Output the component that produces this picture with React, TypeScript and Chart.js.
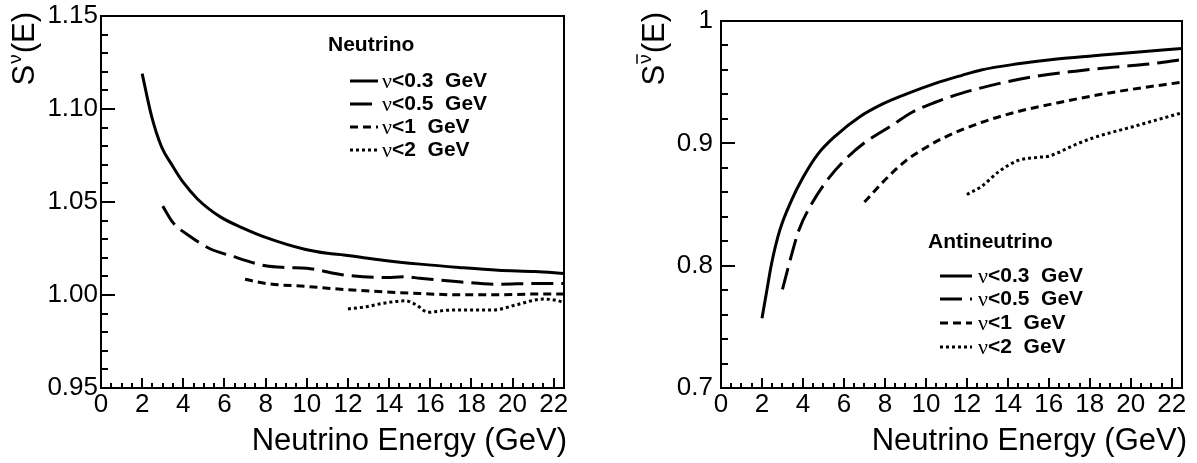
import React, { useEffect, useRef } from "react";
import { Chart, registerables } from "chart.js";
Chart.register(...registerables);

// ---------- data ----------
const energyMin = 0;
const energyMax = 22.5;

const seriesLabels = ["<0.3  GeV", "<0.5  GeV", "<1  GeV", "<2  GeV"];

// Neutrino panel
const nuE03 = [2, 2.46, 2.93, 3.5, 4, 4.7, 5.8, 6.9, 8, 9.9, 11, 11.8, 13.7, 15.5, 17.4, 19.3, 21.1, 22.5];
const nuS03 = [1.119, 1.096, 1.08, 1.069, 1.0605, 1.0515, 1.042, 1.036, 1.031, 1.0246, 1.0224, 1.0215, 1.0187, 1.0166, 1.0148, 1.0133, 1.0126, 1.0116];
const nuE05 = [3, 3.5, 4.3, 5.35, 6.2, 8, 9, 10, 11.8, 13.7, 14.8, 15.5, 17.4, 19.3, 21.1, 22.5];
const nuS05 = [1.0478, 1.0389, 1.0317, 1.0246, 1.0215, 1.0157, 1.0148, 1.0144, 1.0108, 1.0094, 1.0098, 1.009, 1.0071, 1.0058, 1.0062, 1.0062];
const nuE1 = [7, 8, 10, 11.8, 13.7, 15.5, 17.4, 19.3, 21.1, 22.5];
const nuS1 = [1.0085, 1.0062, 1.0046, 1.003, 1.0017, 1.0008, 1.0001, 1.0001, 1.0005, 1.0005];
const nuE2 = [12, 12.9, 13.7, 14.8, 15.3, 15.9, 16.6, 17.4, 19.1, 20.2, 21.5, 22.05, 22.5];
const nuS2 = [0.9925, 0.9937, 0.9955, 0.9969, 0.9948, 0.9907, 0.9916, 0.992, 0.992, 0.9948, 0.9978, 0.9973, 0.996];

// Antineutrino panel
const anE03 = [2, 2.22, 2.46, 2.87, 3.43, 4, 4.72, 5.65, 6.76, 7.87, 9, 10.46, 11.76, 12.7, 14.5, 16.4, 18.2, 20.1, 22.5];
const anS03 = [0.757, 0.778, 0.801, 0.829, 0.853, 0.872, 0.891, 0.907, 0.9216, 0.932, 0.94, 0.949, 0.9556, 0.96, 0.965, 0.969, 0.9716, 0.9743, 0.9775];
const anE05 = [3, 3.43, 3.8, 4.44, 5.28, 6.2, 7.13, 8.24, 9.35, 10.46, 11.76, 13.6, 15.46, 17.3, 19.2, 21, 22.5];
const anS05 = [0.7806, 0.808, 0.829, 0.851, 0.872, 0.889, 0.902, 0.9136, 0.9256, 0.9336, 0.941, 0.949, 0.955, 0.959, 0.9623, 0.965, 0.9684];
const anE1 = [7, 8.06, 9, 9.9, 10.8, 12.7, 14.5, 16.4, 18.2, 20.1, 22.5];
const anS1 = [0.852, 0.871, 0.8855, 0.8956, 0.904, 0.917, 0.926, 0.933, 0.939, 0.9443, 0.95];
const anE2 = [12, 12.7, 13.6, 14.5, 15.46, 16, 16.4, 17.3, 18.2, 20.1, 22.5];
const anS2 = [0.8582, 0.8646, 0.8774, 0.886, 0.8886, 0.8895, 0.892, 0.899, 0.9047, 0.9136, 0.925];

// axis ranges / ticks
const nuYMin = 0.95, nuYMax = 1.15, nuYStep = 0.05, nuYMinor = 0.01;
const anYMin = 0.7, anYMax = 1.0, anYStep = 0.1, anYMinor = 0.02;
const xStep = 2, xMinor = 0.5;

const xTitle = "Neutrino Energy (GeV)";

// ---------- styles ----------
const dashes: number[][] = [[], [22, 8], [8, 5], [3, 3]];
const SANS = "'Liberation Sans', Arial, sans-serif";
const SERIF = "'Liberation Serif', 'Times New Roman', serif";

const rootPlugin = {
  id: "rootStyle",
  afterDraw(chart: any, _args: any, o: any) {
    const { ctx, chartArea: a, scales } = chart;
    const xs = scales.x, ys = scales.y;
    ctx.save();
    ctx.strokeStyle = "#000";
    ctx.fillStyle = "#000";
    // ticks inside the frame
    ctx.lineWidth = 2;
    ctx.lineCap = "butt";
    const nx = Math.round((o.xMax - o.xMin) / o.xMinor);
    for (let i = 0; i <= nx; i++) {
      const v = o.xMin + i * o.xMinor;
      const major = Math.abs(v / o.xStep - Math.round(v / o.xStep)) < 1e-6;
      const px = Math.round(xs.getPixelForValue(v));
      const len = major ? 10 : 5;
      ctx.beginPath();
      ctx.moveTo(px, a.bottom);
      ctx.lineTo(px, a.bottom - len);
      ctx.stroke();
    }
    const ny = Math.round((o.yMax - o.yMin) / o.yMinor);
    const sub = Math.round(o.yStep / o.yMinor);
    for (let i = 0; i <= ny; i++) {
      const v = o.yMin + i * o.yMinor;
      const py = Math.round(ys.getPixelForValue(v));
      const len = i % sub === 0 ? 14 : 7;
      ctx.beginPath();
      ctx.moveTo(a.left, py);
      ctx.lineTo(a.left + len, py);
      ctx.stroke();
    }
    // frame
    ctx.lineWidth = 2;
    ctx.strokeRect(a.left, a.top, a.right - a.left, a.bottom - a.top);

    // x title
    ctx.font = `31px ${SANS}`;
    ctx.textAlign = "right";
    ctx.textBaseline = "middle";
    ctx.fillText(o.xTitle, o.xTitleRight, o.xTitleY);

    // y title: S^nu(E), rotated
    ctx.save();
    ctx.translate(o.yTitleX, o.yTitleTop);
    ctx.rotate(-Math.PI / 2);
    ctx.textBaseline = "middle";
    ctx.textAlign = "left";
    ctx.font = `31px ${SANS}`;
    const wS = ctx.measureText("S").width;
    const wP = ctx.measureText("(E)").width;
    ctx.font = `19px ${SANS}`;
    const wN = ctx.measureText("ν").width;
    const total = wS + wN + 2 + wP;
    let x0 = -total;
    ctx.font = `31px ${SANS}`;
    ctx.fillText("S", x0, 0);
    x0 += wS + 1;
    ctx.font = `19px ${SANS}`;
    ctx.fillText("ν", x0, -9);
    if (o.bar) {
      ctx.lineWidth = 1.5;
      ctx.beginPath();
      ctx.moveTo(x0, -18);
      ctx.lineTo(x0 + wN, -18);
      ctx.stroke();
    }
    x0 += wN + 1;
    ctx.font = `31px ${SANS}`;
    ctx.fillText("(E)", x0, 0);
    ctx.restore();

    // legend
    const L = o.legend;
    ctx.textAlign = "left";
    ctx.textBaseline = "middle";
    ctx.font = `bold 21px ${SANS}`;
    ctx.fillText(L.title, L.titleX, L.titleY);
    chart.data.datasets.forEach((ds: any, i: number) => {
      const y = L.rowY[i];
      ctx.save();
      ctx.lineWidth = 3;
      ctx.setLineDash(ds.borderDash || []);
      ctx.beginPath();
      ctx.moveTo(L.sampleX0, y);
      ctx.lineTo(L.sampleX1, y);
      ctx.stroke();
      ctx.restore();
      ctx.font = `22px ${SERIF}`;
      ctx.fillText("ν", L.textX, y + 1);
      const wn = ctx.measureText("ν").width;
      ctx.font = `bold 21px ${SANS}`;
      ctx.fillText(ds.label, L.textX + wn, y);
    });
    ctx.restore();
  },
};

function makeDatasets(es: number[][], ss: number[][]) {
  return es.map((e, i) => ({
    label: seriesLabels[i],
    data: e.map((x, j) => ({ x, y: ss[i][j] })),
    borderColor: "#000",
    borderWidth: 3,
    borderDash: dashes[i],
    pointRadius: 0,
    fill: false,
    cubicInterpolationMode: "monotone" as const,
  }));
}

function makeConfig(p: any) {
  return {
    type: "line" as const,
    data: { datasets: makeDatasets(p.es, p.ss) },
    options: {
      responsive: false,
      animation: false as const,
      events: [] as any[],
      layout: { padding: { left: 0, top: 14, right: p.padRight, bottom: 0 } },
      plugins: {
        legend: { display: false },
        tooltip: { enabled: false },
        rootStyle: p.style,
      },
      scales: {
        x: {
          type: "linear" as const,
          min: energyMin,
          max: energyMax,
          grid: { display: false, drawTicks: false },
          border: { display: false },
          ticks: {
            stepSize: xStep,
            includeBounds: false,
            autoSkip: false,
            maxRotation: 0,
            color: "#000",
            padding: 4,
            font: { family: SANS, size: 26, lineHeight: 1 },
          },
          afterFit: (s: any) => {
            s.height = 75;
          },
        },
        y: {
          type: "linear" as const,
          min: p.yMin,
          max: p.yMax,
          grid: { display: false, drawTicks: false },
          border: { display: false },
          ticks: {
            stepSize: p.yStep,
            color: "#000",
            padding: p.yPad,
            font: { family: SANS, size: 26, lineHeight: 1 },
            callback: p.fmt,
          },
          afterFit: (s: any) => {
            s.width = p.yWidth;
          },
        },
      },
    },
    plugins: [rootPlugin],
  };
}

export default function App() {
  const leftRef = useRef<HTMLCanvasElement>(null);
  const rightRef = useRef<HTMLCanvasElement>(null);

  useEffect(() => {
    const left = new Chart(
      leftRef.current as HTMLCanvasElement,
      makeConfig({
        es: [nuE03, nuE05, nuE1, nuE2],
        ss: [nuS03, nuS05, nuS1, nuS2],
        yMin: nuYMin,
        yMax: nuYMax,
        yStep: nuYStep,
        yPad: 3,
        yWidth: 101,
        padRight: 34,
        fmt: (v: any) => Number(v).toFixed(2),
        style: {
          xMin: energyMin, xMax: energyMax, xStep, xMinor,
          yMin: nuYMin, yMax: nuYMax, yStep: nuYStep, yMinor: nuYMinor,
          xTitle, xTitleRight: 567, xTitleY: 441,
          yTitleX: 25, yTitleTop: 12, bar: false,
          legend: {
            title: "Neutrino", titleX: 328, titleY: 45,
            rowY: [81, 104, 127, 150], sampleX0: 350, sampleX1: 378, textX: 382,
          },
        },
      }) as any
    );
    const right = new Chart(
      rightRef.current as HTMLCanvasElement,
      makeConfig({
        es: [anE03, anE05, anE1, anE2],
        ss: [anS03, anS05, anS1, anS2],
        yMin: anYMin,
        yMax: anYMax,
        yStep: anYStep,
        yPad: 8,
        yWidth: 121,
        padRight: 15,
        fmt: (v: any) => (Math.abs(Number(v) - 1) < 1e-9 ? "1" : Number(v).toFixed(1)),
        style: {
          xMin: energyMin, xMax: energyMax, xStep, xMinor,
          yMin: anYMin, yMax: anYMax, yStep: anYStep, yMinor: anYMinor,
          xTitle, xTitleRight: 587, xTitleY: 441,
          yTitleX: 55, yTitleTop: 12, bar: true,
          legend: {
            title: "Antineutrino", titleX: 328, titleY: 242,
            rowY: [276, 299, 323, 347], sampleX0: 340, sampleX1: 372, textX: 378,
          },
        },
      }) as any
    );
    return () => {
      left.destroy();
      right.destroy();
    };
  }, []);

  return (
    <div style={{ position: "absolute", left: 0, top: 0, width: 1197, height: 463, background: "#fff" }}>
      <canvas ref={leftRef} width={598} height={463} style={{ position: "absolute", left: 0, top: 0 }} />
      <canvas ref={rightRef} width={597} height={463} style={{ position: "absolute", left: 600, top: 0 }} />
    </div>
  );
}
